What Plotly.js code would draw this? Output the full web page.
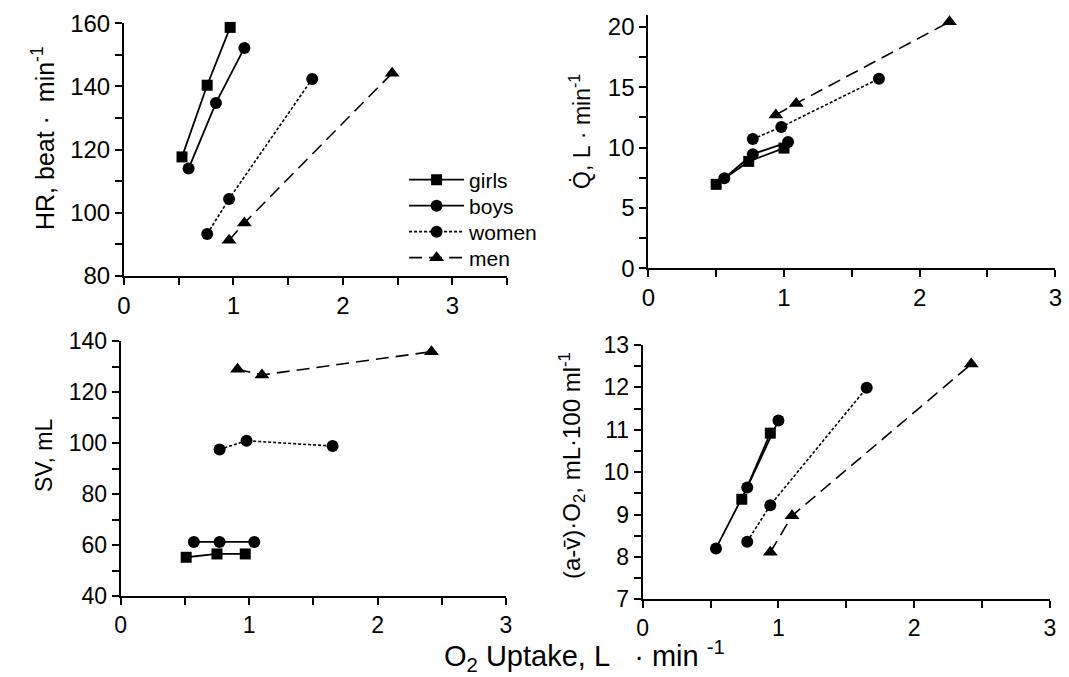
<!DOCTYPE html>
<html>
<head>
<meta charset="utf-8">
<script src="https://cdn.plot.ly/plotly-3.0.1.min.js"></script>
<style>
  html, body { margin: 0; padding: 0; background: #fff; }
  #chart { width: 1069px; height: 677px; }
</style>
</head>
<body>
<div id="chart"></div>
<script>
// ---- Data (O2 uptake in L/min on x) ----
const groups = ["girls", "boys", "women", "men"];

// Heart rate panel
const hrGirlsX = [0.53, 0.76, 0.97];  const hrGirlsY = [117.7, 140.4, 158.7];
const hrBoysX  = [0.59, 0.84, 1.10];  const hrBoysY  = [114.0, 134.8, 152.2];
const hrWomenX = [0.76, 0.96, 1.72];  const hrWomenY = [93.3, 104.4, 142.4];
const hrMenX   = [0.96, 1.10, 2.45];  const hrMenY   = [91.3, 96.8, 144.2];

// Cardiac output panel
const qGirlsX = [0.50, 0.74, 1.00];   const qGirlsY = [6.95, 8.85, 9.95];
const qBoysX  = [0.56, 0.77, 1.03];   const qBoysY  = [7.45, 9.45, 10.45];
const qWomenX = [0.77, 0.98, 1.70];   const qWomenY = [10.7, 11.7, 15.7];
const qMenX   = [0.94, 1.09, 2.22];   const qMenY   = [12.7, 13.65, 20.4];

// Stroke volume panel
const svGirlsX = [0.51, 0.75, 0.97];  const svGirlsY = [55.2, 56.5, 56.5];
const svBoysX  = [0.57, 0.77, 1.04];  const svBoysY  = [61.2, 61.2, 61.2];
const svWomenX = [0.77, 0.98, 1.65];  const svWomenY = [97.5, 100.9, 98.8];
const svMenX   = [0.91, 1.10, 2.42];  const svMenY   = [128.9, 126.7, 135.8];

// a-v O2 difference panel
const avGirlsX = [0.73, 0.94];        const avGirlsY = [9.36, 10.92];
const avBoysX  = [0.54, 0.77, 1.00];  const avBoysY  = [8.20, 9.64, 11.22];
const avWomenX = [0.77, 0.94, 1.65];  const avWomenY = [8.36, 9.22, 11.99];
const avMenX   = [0.94, 1.10, 2.42];  const avMenY   = [8.11, 8.97, 12.55];

// ---- Styles ----
const FONT = "Arial, 'Liberation Sans', Helvetica, sans-serif";
const NB = "\u00a0";
const style = {
  girls: { marker: { symbol: "square", size: 11, color: "#000" }, line: { color: "#000", width: 1.8, dash: "solid" } },
  boys:  { marker: { symbol: "circle", size: 12, color: "#000" }, line: { color: "#000", width: 1.8, dash: "solid" } },
  women: { marker: { symbol: "circle", size: 12, color: "#000" }, line: { color: "#000", width: 1.6, dash: "3px,2px" } },
  men:   { marker: { symbol: "triangle-up", size: 13, color: "#000" }, line: { color: "#000", width: 1.6, dash: "13px,7px" } }
};
const legendOf = { girls: "legend", boys: "legend2", women: "legend3", men: "legend4" };

function tr(name, x, y, xa, ya, showLegend) {
  return {
    type: "scatter", mode: "lines+markers", name: name,
    x: x, y: y, xaxis: xa, yaxis: ya,
    marker: style[name].marker, line: style[name].line,
    showlegend: showLegend, legend: legendOf[name],
    cliponaxis: false, hoverinfo: "x+y+name"
  };
}

const traces = [
  tr("girls", hrGirlsX, hrGirlsY, "x", "y", true),
  tr("boys",  hrBoysX,  hrBoysY,  "x", "y", true),
  tr("women", hrWomenX, hrWomenY, "x", "y", true),
  tr("men",   hrMenX,   hrMenY,   "x", "y", true),

  tr("girls", qGirlsX, qGirlsY, "x2", "y2", false),
  tr("boys",  qBoysX,  qBoysY,  "x2", "y2", false),
  tr("women", qWomenX, qWomenY, "x2", "y2", false),
  tr("men",   qMenX,   qMenY,   "x2", "y2", false),

  tr("girls", svGirlsX, svGirlsY, "x3", "y3", false),
  tr("boys",  svBoysX,  svBoysY,  "x3", "y3", false),
  tr("women", svWomenX, svWomenY, "x3", "y3", false),
  tr("men",   svMenX,   svMenY,   "x3", "y3", false),

  tr("girls", avGirlsX, avGirlsY, "x4", "y4", false),
  tr("boys",  avBoysX,  avBoysY,  "x4", "y4", false),
  tr("women", avWomenX, avWomenY, "x4", "y4", false),
  tr("men",   avMenX,   avMenY,   "x4", "y4", false)
];

function ax(domain, range, dtick, minorDtick, anchor, fontSize) {
  return {
    domain: domain, range: range, anchor: anchor,
    tick0: range[0], dtick: dtick,
    showgrid: false, zeroline: false,
    showline: true, linecolor: "#000", linewidth: 2,
    ticks: "outside", ticklen: 7, tickwidth: 2, tickcolor: "#000",
    minor: { dtick: minorDtick, ticks: "outside", ticklen: 7, tickwidth: 2, tickcolor: "#000", showgrid: false },
    tickfont: { family: FONT, size: fontSize, color: "#000" },
    fixedrange: true
  };
}

function leg(yCenterPx) {
  return {
    x: 0.378, y: 1 - yCenterPx / 677, xanchor: "left", yanchor: "middle",
    bgcolor: "rgba(0,0,0,0)", borderwidth: 0,
    font: { family: FONT, size: 21, color: "#000" },
    itemwidth: 55, tracegroupgap: 0
  };
}

function ytitle(text, xPx, yPx, size) {
  return { text: text, xref: "paper", yref: "paper", x: xPx / 1069, y: 1 - yPx / 677,
    xanchor: "center", yanchor: "middle", textangle: -90, showarrow: false,
    font: { family: FONT, size: size, color: "#000" } };
}

const layout = {
  width: 1069, height: 677,
  margin: { l: 0, r: 0, t: 0, b: 0 },
  paper_bgcolor: "#fff", plot_bgcolor: "rgba(0,0,0,0)",
  font: { family: FONT, color: "#000" },
  xaxis:  ax([0.116, 0.4743], [0, 3.5], 1, 0.5, "y", 24),
  yaxis:  ax([0.5923, 0.9656], [80, 160], 20, 10, "x", 24),
  xaxis2: ax([0.6065, 0.9872], [0, 3], 1, 0.5, "y2", 24),
  yaxis2: ax([0.6037, 0.9784], [0, 21], 5, 2.5, "x2", 24),
  xaxis3: ax([0.1129, 0.4733], [0, 3], 1, 0.5, "y3", 23),
  yaxis3: ax([0.1196, 0.4963], [40, 140], 20, 10, "x3", 23),
  xaxis4: ax([0.6012, 0.9822], [0, 3], 1, 0.5, "y4", 23),
  yaxis4: ax([0.1148, 0.4904], [7, 13], 1, 0.5, "x4", 23),
  legend:  leg(180),
  legend2: leg(206),
  legend3: leg(232),
  legend4: leg(258),
  annotations: [
    ytitle("HR, beat" + NB + "·" + NB + NB + "min<sup>-1</sup>", 43, 138, 25),
    ytitle("Q̇, L" + NB + "·" + NB + "min<sup>-1</sup>", 580, 132, 23),
    ytitle("SV, mL", 44, 455, 23),
    ytitle("(a-v̄)·O<sub>2</sub>, mL·100 ml<sup>-1</sup>", 572, 466, 24),
    { text: "O<sub>2</sub> Uptake, L" + NB + NB + NB + "·" + NB + "min" + NB + "<sup>-1</sup>",
      xref: "paper", yref: "paper", x: 584 / 1069, y: 1 - 656 / 677,
      xanchor: "center", yanchor: "middle", showarrow: false,
      font: { family: FONT, size: 29, color: "#000" } }
  ]
};

Plotly.newPlot("chart", traces, layout, { displayModeBar: false, staticPlot: true });
</script>
</body>
</html>
